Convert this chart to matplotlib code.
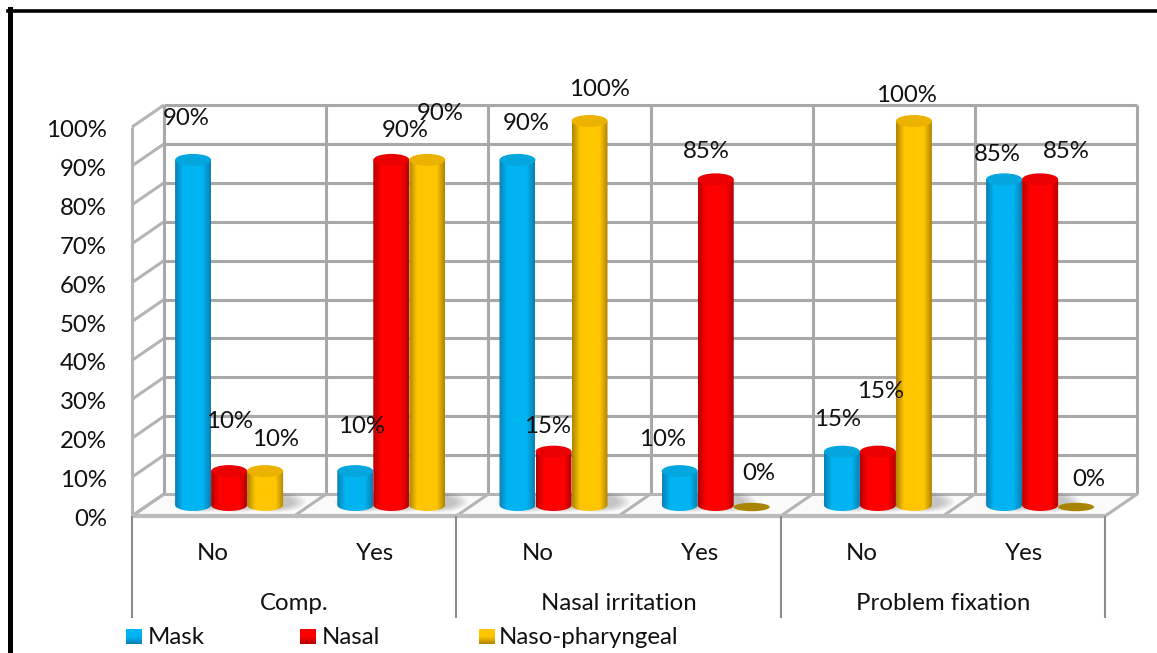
#!/usr/bin/env python
import numpy as np
import matplotlib
matplotlib.use('Agg')
import matplotlib.pyplot as plt
from matplotlib.colors import LinearSegmentedColormap
from matplotlib.patches import Ellipse, PathPatch, Polygon, Rectangle
from matplotlib.path import Path

plt.rcParams['font.family'] = ['Lato', 'DejaVu Sans']

# Chart data
groups = ['Comp.', 'Nasal irritation', 'Problem fixation']
answers = ['No', 'Yes', 'No', 'Yes', 'No', 'Yes']
series = ['Mask', 'Nasal', 'Naso-pharyngeal']
mask = [90, 10, 90, 10, 15, 85]
nasal = [10, 90, 15, 85, 15, 85]
naso = [10, 90, 100, 0, 100, 0]
yticks = list(range(0, 101, 10))

# Label placement as pixel nudges from the top of each bar
mask_nudge = [(-7, -36), (6, -40), (8.5, -31), (-17, -27), (-4, -27), (-7, -20)]
nasal_nudge = [(0, -45), (14, -24), (-5.5, -20), (-9, -23), (3, -55), (26, -23)]
naso_nudge = [(10, -27), (13, -41), (9.5, -27), (7, -32), (-7, -20), (13, -26)]

W, H = 1157, 653
XU, YU = 162.2, 3.89           # pixels per category, pixels per percent
X0, Y0 = 148, 505              # pixel position of the axis origin
DX, DY = 16.0 / XU, 11.0 / YU  # half of the 3D depth in data units
FS = 17.3

fig = plt.figure(figsize=(W / 100, H / 100), dpi=100)
ax = fig.add_axes([0, 0, 1, 1])
ax.set_xlim(-X0 / XU, (W - X0) / XU)
ax.set_ylim(-(H - Y0) / YU, Y0 / YU)
ax.axis('off')

GRID = '#a8a8a8'
n = len(answers)


def gline(xs, ys, lw=2.2, color=GRID, z=2):
    ax.plot(xs, ys, color=color, lw=lw, zorder=z, solid_capstyle='butt')


# Floor
floor = Polygon([(-DX, -DY), (n - DX, -DY), (n + DX, DY), (DX, DY)],
                fc='#fafafa', ec='none', zorder=1)
ax.add_patch(floor)

# Walls and gridlines
for t in yticks:
    gline([DX, n + DX], [t + DY, t + DY])
    gline([-DX, DX], [t - DY, t + DY], color='#b4b4b4')
for i in range(n + 1):
    gline([i + DX, i + DX], [DY, 100 + DY])
    gline([i - DX, i + DX], [-DY, DY], color='#b4b4b4')
gline([-DX, -DX], [-DY, 100 - DY], color='#b4b4b4')
gline([-DX, n - DX], [-DY, -DY], lw=3.0, color='#bcbcbc')
gline([DX, n + DX], [DY, DY], lw=2.0, color='#b5b5b5')

# Multi-level category axis
for i in range(0, n + 1, 2):
    gline([i - DX, i - DX], [-DY, -DY - 102 / YU], lw=1.5, color='#8c8c8c')

for t in yticks:
    ax.text(-DX - 25 / XU, t - DY - 3.5 / YU, f'{t}%', ha='right', va='center',
            fontsize=FS, color='#111111')

for i, lab in enumerate(answers):
    ax.text(i + 0.5 - DX, -DY - 38 / YU, lab, ha='center', va='center',
            fontsize=FS, color='#111111')
for i, lab in enumerate(groups):
    ax.text(2 * i + 1 - DX, -DY - 88 / YU, lab, ha='center', va='center',
            fontsize=FS, color='#111111')

colors = [('#0a80b4', '#00b4f2'), ('#b40000', '#ff0000'), ('#b08400', '#ffc600')]
tops = ['#04a6de', '#ea0000', '#ecb200']
zero_fill = '#a88400'
bar_w = 36.0 / XU
ell_h = 12.0 / YU
top_drop = 5.0 / YU
offsets = [-bar_w, 0, bar_w]


def gradient(edge, mid):
    stops = [(0.0, edge), (0.22, mid), (0.78, mid), (1.0, edge)]
    return LinearSegmentedColormap.from_list('c', stops)


def cylinder(xc, v, k, z):
    x0, x1 = xc - bar_w / 2, xc + bar_w / 2
    if v == 0:
        ax.add_patch(Ellipse((xc, -2 / YU), bar_w, ell_h * 0.7, fc=zero_fill, ec='none', zorder=z))
        return
    top = v - top_drop
    # soft shadow on the floor
    for s in np.linspace(1.0, 1.7, 7):
        ax.add_patch(Ellipse((xc + 10 / XU, 3 / YU), bar_w * s, ell_h * s, fc='#555555',
                             ec='none', alpha=0.05, zorder=z - 1))
    th = np.linspace(np.pi, 2 * np.pi, 30)
    low = np.c_[xc + bar_w / 2 * np.cos(th), ell_h / 2 * np.sin(th)]
    verts = np.vstack([low, [[x1, top]], [[x0, top]], low[:1]])
    body = Path(verts)
    grad = np.linspace(0, 1, 64).reshape(1, -1)
    im = ax.imshow(grad, extent=(x0, x1, -ell_h, top), aspect='auto', cmap=gradient(*colors[k]),
                   interpolation='bilinear', zorder=z)
    im.set_clip_path(PathPatch(body, transform=ax.transData))
    ax.add_patch(Ellipse((xc, top), bar_w, ell_h, fc=tops[k], ec='none', zorder=z + 0.5))


values = [mask, nasal, naso]
nudges = [mask_nudge, nasal_nudge, naso_nudge]
z = 4
for i in range(n):
    for k in range(3):
        xc = i + 0.5 + offsets[k]
        cylinder(xc, values[k][i], k, z)
        z += 2

# Data labels sit on top of everything
for k in range(3):
    for i in range(n):
        xc = i + 0.5 + offsets[k]
        v = values[k][i]
        dx, dy = nudges[k][i]
        ax.text(xc + dx / XU, v - dy / YU, f'{v}%', ha='center', va='center',
                fontsize=FS, color='#111111', zorder=200)

# Legend
legend_x = [126, 300, 479]
legend_text_x = [148, 322, 499]
for k, name in enumerate(series):
    lx = (legend_x[k] - X0) / XU
    ly = (Y0 - 644) / YU
    sw = 16 / XU
    sh = 15 / YU
    cmap = LinearSegmentedColormap.from_list('l', [colors[k][1], colors[k][1], colors[k][0]])
    ax.imshow(np.linspace(0, 1, 32).reshape(-1, 1), extent=(lx, lx + sw, ly, ly + sh),
              aspect='auto', cmap=cmap, zorder=150)
    ax.add_patch(Rectangle((lx + sw * 0.3, ly + sh * 0.45), sw * 0.4, sh * 0.4,
                           fc=colors[k][1], ec='none', zorder=151))
    ax.text((legend_text_x[k] - X0) / XU, (Y0 - 638) / YU, name, ha='left', va='center',
            fontsize=FS, color='#111111')

ax.set_xlim(-X0 / XU, (W - X0) / XU)
ax.set_ylim(-(H - Y0) / YU, Y0 / YU)

# Black frame along the left and top of the picture
fig.add_artist(plt.Line2D([10 / W, 10 / W], [0, 1 - 9 / H], color='black', lw=3.6))
fig.add_artist(plt.Line2D([8 / W, 1], [1 - 10.5 / H, 1 - 10.5 / H], color='black', lw=2.6))

fig.savefig('out.png', dpi=100)
